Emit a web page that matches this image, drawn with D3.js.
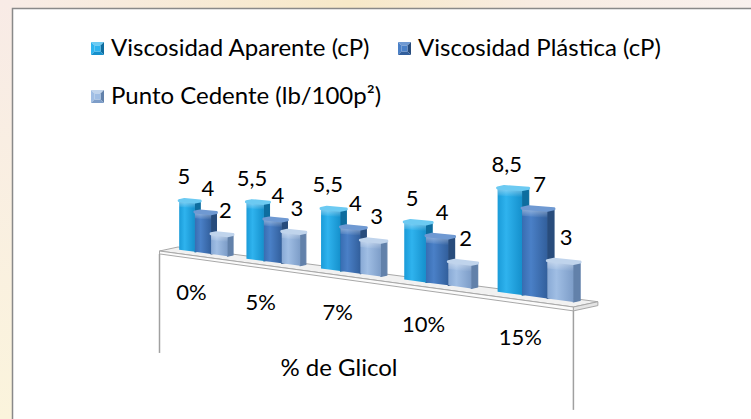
<!DOCTYPE html>
<html>
  <head>
    <meta charset="utf-8">
    <script src="https://d3js.org/d3.v7.min.js"></script>
    <style>
      body { margin: 0; background: #f8eee6; }
      text { font-family: Lato, "Open Sans", sans-serif; fill: #000; }
    </style>
  </head>
  <body>
    <script>

      var categories = ["0%", "5%", "7%", "10%", "15%"];
      var seriesNames = ["Viscosidad Aparente (cP)", "Viscosidad Plástica (cP)", "Punto Cedente (lb/100p²)"];
      var aparente = [5, 5.5, 5.5, 5, 8.5];
      var plastica = [4, 4, 4, 4, 7];
      var cedente = [2, 3, 3, 2, 3];
      var axisTitle = "% de Glicol";

      var seriesValues = [aparente, plastica, cedente];

      var width = 751, height = 419;

      // colours per series: front (3 stops), side, top
      var colors = [
        {front: ["#1a9bd8", "#2fb3ee", "#1590cc"], side: "#0e6d9f", top: "#6ccaf2"},
        {front: ["#386db2", "#4a80c7", "#325f9c"], side: "#284c7c", top: "#6f99d2"},
        {front: ["#88a9d5", "#a0bee4", "#7d9dc8"], side: "#6281aa", top: "#c0d4ec"}
      ];

      // 3d projection (perspective along the category axis)
      var P = {a: 159.5, b: 54.8, c: 0.0488, f: 18.5, g: 251, h: -3.78, j: -4};

      var x = d3.scaleBand().domain(categories).range([0, 5])
          .paddingInner(0.27).paddingOuter(0.135);
      var s = d3.scaleBand().domain(d3.range(seriesNames.length)).range([0, x.bandwidth()]);
      var y = d3.scaleLinear().domain([0, 1]).range([0, 9.76]);

      var z0 = 0.6, z1 = 0.88;

      function proj(X, Y, Z) {
        var w = 1 - P.c * X;
        return [(P.a + P.b * X + P.f * Z) / w, (P.g + P.h * X + P.j * Z - y(Y)) / w];
      }
      function poly(pts) {
        return "M" + pts.map(function(p) { return p[0].toFixed(2) + "," + p[1].toFixed(2); }).join("L") + "Z";
      }

      var svg = d3.select("body").append("svg")
          .attr("width", width)
          .attr("height", height);

      var defs = svg.append("defs");
      colors.forEach(function(c, i) {
        var g = defs.append("linearGradient").attr("id", "front" + i)
            .attr("x1", 0).attr("x2", 1).attr("y1", 0).attr("y2", 0);
        g.append("stop").attr("offset", "0%").attr("stop-color", c.front[0]);
        g.append("stop").attr("offset", "35%").attr("stop-color", c.front[1]);
        g.append("stop").attr("offset", "100%").attr("stop-color", c.front[2]);
      });
      var shine = defs.append("linearGradient").attr("id", "shine")
          .attr("x1", 0).attr("x2", 0).attr("y1", 0).attr("y2", 1);
      shine.append("stop").attr("offset", "0%").attr("stop-color", "#fff").attr("stop-opacity", 0.45);
      shine.append("stop").attr("offset", "100%").attr("stop-color", "#fff").attr("stop-opacity", 0);

      // background strips and chart area
      var bg = defs.append("linearGradient").attr("id", "bg")
          .attr("x1", 0).attr("x2", 0).attr("y1", 0).attr("y2", 1);
      bg.append("stop").attr("offset", "0%").attr("stop-color", "#f8ebe6");
      bg.append("stop").attr("offset", "100%").attr("stop-color", "#fbf4dc");
      svg.append("rect").attr("width", width).attr("height", height).style("fill", "url(#bg)");
      var topg = defs.append("linearGradient").attr("id", "topbg");
      topg.append("stop").attr("offset", "0%").attr("stop-color", "#f8ece6");
      topg.append("stop").attr("offset", "45%").attr("stop-color", "#f7e9c8");
      topg.append("stop").attr("offset", "70%").attr("stop-color", "#f8ece2");
      topg.append("stop").attr("offset", "100%").attr("stop-color", "#f9f1ee");
      svg.append("rect").attr("x", 12).attr("width", width).attr("height", 9).style("fill", "url(#topbg)");

      svg.append("rect")
          .attr("x", 12.5).attr("y", 8.5)
          .attr("width", width).attr("height", height)
          .style("fill", "#fff")
          .style("stroke", "#898989")
          .style("stroke-width", 1.5);

      // legend
      var legendPos = [[91, 42], [398, 42], [91, 90]];
      var legend = svg.selectAll(".legend")
          .data(seriesNames)
          .enter().append("g")
          .attr("class", "legend")
          .attr("transform", function(d, i) { return "translate(" + legendPos[i][0] + "," + legendPos[i][1] + ")"; });

      legend.each(function(d, i) {
        var g = d3.select(this), c = colors[i], n = 13, m = 3.5;
        g.append("path").attr("d", poly([[0, 0], [n, 0], [n - m, m], [m, m]])).style("fill", c.top);
        g.append("path").attr("d", poly([[0, 0], [m, m], [m, n - m], [0, n]])).style("fill", c.front[1]);
        g.append("path").attr("d", poly([[n, 0], [n, n], [n - m, n - m], [n - m, m]])).style("fill", c.side);
        g.append("path").attr("d", poly([[0, n], [m, n - m], [n - m, n - m], [n, n]])).style("fill", c.front[2]);
        g.append("rect").attr("x", m).attr("y", m).attr("width", n - 2 * m).attr("height", n - 2 * m)
            .style("fill", c.front[1]);
        g.append("text")
            .attr("x", 20).attr("y", 14)
            .style("font-size", "24px")
            .text(d);
      });

      // floor
      var ft = -0.3;
      svg.append("path")
          .attr("d", poly([proj(0, 0, 0), proj(5, 0, 0), proj(5, 0, 1), proj(0, 0, 1)]))
          .style("fill", "#f1f1f1").style("stroke", "#a8a8a8").style("stroke-width", 1);
      svg.append("path")
          .attr("d", poly([proj(0, 0, 0), proj(5, 0, 0), proj(5, ft, 0), proj(0, ft, 0)]))
          .style("fill", "#fbfbfb").style("stroke", "#a8a8a8").style("stroke-width", 1);
      svg.append("path")
          .attr("d", poly([proj(5, 0, 0), proj(5, 0, 1), proj(5, ft, 1), proj(5, ft, 0)]))
          .style("fill", "#e4e4e4").style("stroke", "#a8a8a8").style("stroke-width", 1);

      // wall edges
      var wallDrop = 99;
      [0, 5].forEach(function(X) {
        var p = proj(X, ft, 0);
        svg.append("line")
            .attr("x1", p[0]).attr("y1", p[1])
            .attr("x2", p[0]).attr("y2", p[1] + wallDrop)
            .style("stroke", "#a0a0a0").style("stroke-width", 1.5);
      });

      // bars
      var bars = [];
      categories.forEach(function(cat, ci) {
        seriesValues.forEach(function(vals, si) {
          bars.push({cat: cat, series: si, value: vals[ci],
                     X0: x(cat) + s(si), X1: x(cat) + s(si) + s.bandwidth()});
        });
      });

      var barG = svg.selectAll(".bar")
          .data(bars)
          .enter().append("g")
          .attr("class", "bar");

      barG.append("path")
          .attr("d", function(d) { return poly([proj(d.X1, 0, z0), proj(d.X1, 0, z1), proj(d.X1, d.value, z1), proj(d.X1, d.value, z0)]); })
          .style("fill", function(d) { return colors[d.series].side; })
          .style("stroke", function(d) { return colors[d.series].side; })
          .style("stroke-width", 1.2).style("stroke-linejoin", "round");
      barG.append("path")
          .attr("d", function(d) { return poly([proj(d.X0, 0, z0), proj(d.X1, 0, z0), proj(d.X1, d.value, z0), proj(d.X0, d.value, z0)]); })
          .style("fill", function(d) { return "url(#front" + d.series + ")"; });
      // rounded highlight at the top of the front face
      barG.append("path")
          .attr("d", function(d) {
            var v = d.value, dv = 6 / 9.76;
            return poly([proj(d.X0, v - dv, z0), proj(d.X1, v - dv, z0), proj(d.X1, v, z0), proj(d.X0, v, z0)]);
          })
          .style("fill", "url(#shine)");
      barG.append("path")
          .attr("d", function(d) {
            var v = d.value;
            return poly([proj(d.X0, v, z0), proj(d.X1, v, z0), proj(d.X1, v, z1), proj(d.X0, v, z1)]);
          })
          .style("fill", function(d) { return colors[d.series].top; })
          .style("stroke", function(d) { return colors[d.series].top; })
          .style("stroke-width", 3).style("stroke-linejoin", "round");

      // data labels
      var labelDx = [-3, 5, 6];
      svg.selectAll(".value")
          .data(bars)
          .enter().append("text")
          .attr("class", "value")
          .attr("x", function(d) { return proj((d.X0 + d.X1) / 2, d.value, z0)[0] + labelDx[d.series]; })
          .attr("y", function(d) { return proj((d.X0 + d.X1) / 2, d.value, z0)[1] - 17; })
          .attr("text-anchor", "middle")
          .style("font-size", "22px")
          .text(function(d) { return String(d.value).replace(".", ","); });

      // category labels
      svg.selectAll(".cat")
          .data(categories)
          .enter().append("text")
          .attr("class", "cat")
          .attr("x", function(d) { return proj(x(d) + x.bandwidth() / 2, 0, 0)[0]; })
          .attr("y", function(d) { return proj(x(d) + x.bandwidth() / 2, 0, 0)[1] + 45; })
          .attr("text-anchor", "middle")
          .style("font-size", "22px")
          .text(function(d) { return d; });

      svg.append("text")
          .attr("x", 339).attr("y", 376)
          .attr("text-anchor", "middle")
          .style("font-size", "24px")
          .text(axisTitle);

    </script>
  </body>
</html>
